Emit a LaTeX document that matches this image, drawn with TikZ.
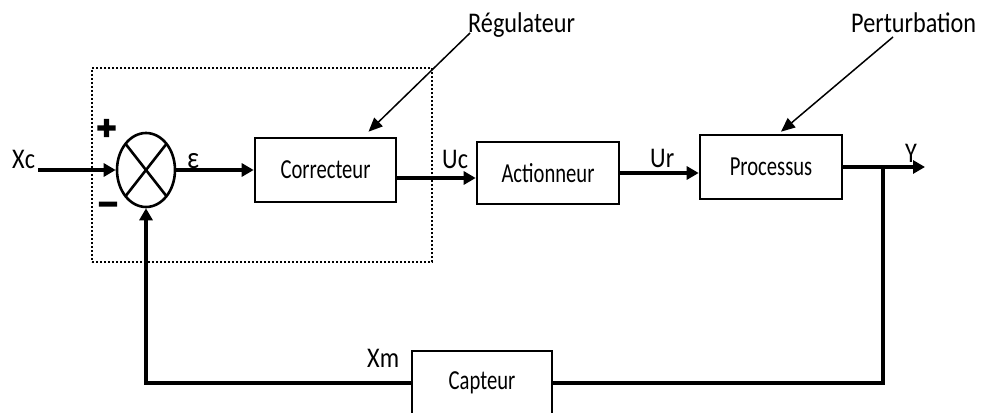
\documentclass[tikz,border=0pt]{standalone}
\usepackage{fontspec}
\setmainfont{Carlito}
\newfontfamily\lblfont{Carlito}[FakeStretch=0.85]
\newfontfamily\boxfont{Carlito}[FakeStretch=0.75]
\newfontfamily\signfont{DejaVu Sans Bold}[FakeBold=8]
\usetikzlibrary{arrows.meta,shapes.geometric,calc}

\tikzset{
  block/.style={draw, line width=2.6pt, inner sep=0pt,
    font=\boxfont\fontsize{27.5}{30}\selectfont},
  sumnode/.style={draw, ellipse, line width=2.6pt, inner sep=0pt,
    minimum width=58pt, minimum height=74pt},
  dotbox/.style={draw, line width=2pt, dash pattern=on 2pt off 2pt,
    inner sep=0pt},
  lbl/.style={inner sep=0pt, anchor=base west,
    font=\lblfont\fontsize{28.5}{30}\selectfont},
  sign/.style={inner sep=0pt, font=\signfont\fontsize{26}{26}\selectfont},
  flow/.style={line width=4pt, -{Triangle[length=12pt,width=13pt]}},
  fb/.style={line width=4pt},
  pointer/.style={line width=1.5pt, -{Triangle[length=14pt,width=12pt]}}
}

\begin{document}
\begin{tikzpicture}[x=1pt,y=-1pt]
\useasboundingbox (0,0) rectangle (987,412);

% regulator frame (dotted)
\node[dotbox, minimum width=340pt, minimum height=194pt] (reg) at (262,165) {};

% summing junction
\node[sumnode] (sum) at (146,170) {};
\draw[line width=2.6pt] ($(sum.center)+(20.5,-26.2)$) -- ($(sum.center)+(-20.5,26.2)$);
\draw[line width=2.6pt] ($(sum.center)+(-20.5,-26.2)$) -- ($(sum.center)+(20.5,26.2)$);
\node[sign] (plus) at (106.5,128) {+};
\node[sign] (minus) at (108,207.5) {−};

% blocks
\node[block, minimum width=141pt, minimum height=64pt] (corr) at (325.5,170) {Correcteur};
\node[block, minimum width=142pt, minimum height=62pt] (act) at (548,173) {Actionneur};
\node[block, minimum width=142pt, minimum height=64pt] (proc) at (771,167) {Processus};
\node[block, minimum width=140pt, minimum height=64pt] (capt) at (482,383) {Capteur};

% signal labels
\node[lbl] (xc) at (12,168) {Xc};
\node[lbl, font=\lblfont\fontsize{31}{31}\selectfont] (eps) at (187,168) {ε};
\node[lbl] (uc) at (442,168) {Uc};
\node[lbl] (ur) at (650,167) {Ur};
\node[lbl] (yl) at (905,162) {Y};
\node[lbl] (xm) at (367,367) {Xm};
\node[lbl] (reglbl) at (468,33) {Régulateur};
\node[lbl] (pertlbl) at (851,33) {Perturbation};

% forward path
\coordinate (xcin) at (38,170);
\coordinate (yout) at (925,167);
\coordinate (br) at (883,167);
\draw[flow] (xcin) -- (sum.west);
\draw[flow] (sum.east) -- (corr.west);
\draw[flow] ($(corr.east)+(0,8)$) -- ($(act.west)+(0,5)$);
\draw[flow] (act.east) -- (act.east -| proc.west);
\draw[flow] (proc.east) -- (yout);

% feedback path
\draw[fb] (br) |- (capt.east);
\draw[flow] (capt.west) -| (sum.south);

% annotation pointers
\draw[pointer] ($(reglbl.base west)+(2,0)$) -- ($(corr.north)+(43,-5)$);
\draw[pointer] ($(pertlbl.base west)+(42,4)$) -- ($(proc.north)+(10,-2)$);
\end{tikzpicture}
\end{document}
